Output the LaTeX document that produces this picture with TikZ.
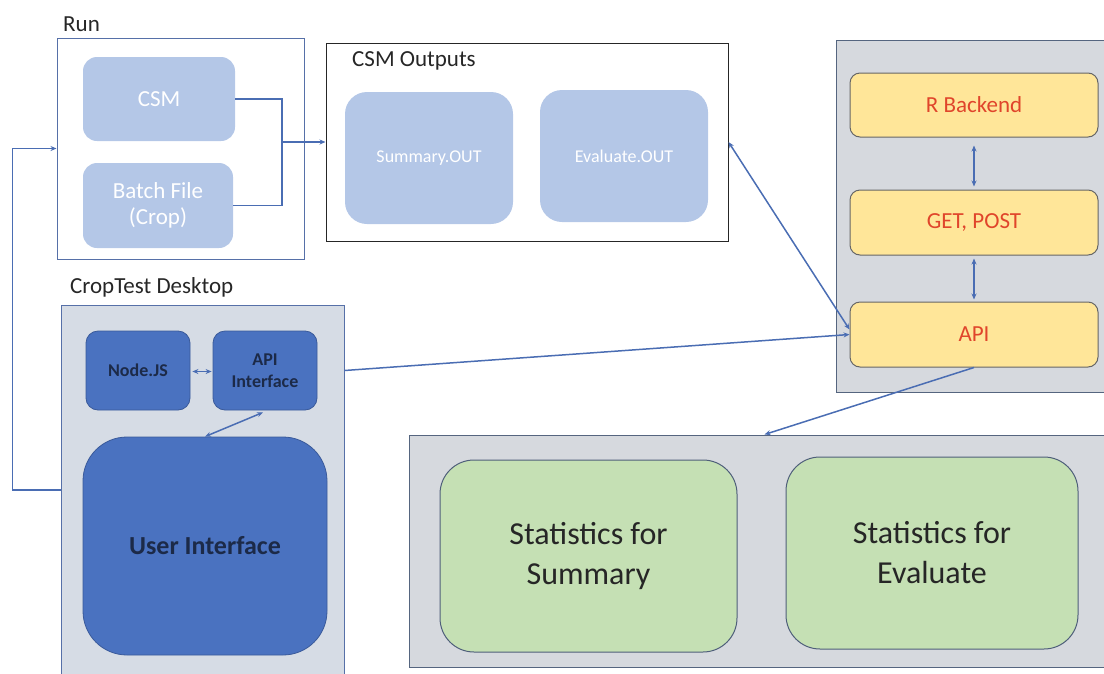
\documentclass[tikz,border=0pt]{standalone}
\usepackage{fontspec}
\setmainfont{Carlito}
\usetikzlibrary{arrows.meta,calc}

\definecolor{lineblue}{HTML}{4A6DB3}
\definecolor{frameblue}{HTML}{5670A8}
\definecolor{framegray}{HTML}{55657F}
\definecolor{paleblue}{HTML}{B4C7E7}
\definecolor{deepblue}{HTML}{4A72C0}
\definecolor{deepedge}{HTML}{3A5A9A}
\definecolor{navytext}{HTML}{1C2A48}
\definecolor{panelgray}{HTML}{D6D9DE}
\definecolor{deskfill}{HTML}{D6DCE5}
\definecolor{sand}{HTML}{FFE699}
\definecolor{sandedge}{HTML}{666666}
\definecolor{redtext}{HTML}{E0452B}
\definecolor{mint}{HTML}{C5E0B4}
\definecolor{mintedge}{HTML}{4F5F7A}
\definecolor{labeltext}{HTML}{262626}

\tikzset{
  frame/.style={draw=frameblue, line width=1pt, inner sep=0pt},
  panel/.style={draw=framegray, fill=panelgray, line width=1pt, inner sep=0pt},
  runbox/.style={fill=paleblue, rounded corners=14pt, inner sep=0pt, text=white, align=center},
  outbox/.style={fill=paleblue, rounded corners=22pt, inner sep=0pt, text=white,
    font=\fontsize{18}{22}\selectfont},
  srvbox/.style={draw=sandedge, fill=sand, line width=1pt, rounded corners=10pt, inner sep=0pt,
    minimum width=248pt, minimum height=65pt, text=redtext, font=\fontsize{23}{28}\selectfont},
  appbox/.style={draw=deepedge, fill=deepblue, line width=0.8pt, rounded corners=12pt, inner sep=0pt,
    text=navytext, align=center, font=\bfseries\fontsize{18}{22}\selectfont},
  statbox/.style={draw=mintedge, fill=mint, line width=1pt, rounded corners=34pt, inner sep=0pt,
    minimum height=192pt, text=labeltext, align=center, font=\fontsize{32}{40}\selectfont},
  grouplabel/.style={anchor=base west, inner sep=0pt, text=labeltext, font=\fontsize{23}{28}\selectfont},
  conn/.style={draw=lineblue, line width=1.5pt},
  >={Stealth[length=6pt,width=5pt]}
}

\begin{document}
\begin{tikzpicture}[x=1pt, y=-1pt]
\useasboundingbox (0,0) rectangle (1104,673);
\clip (0,0) rectangle (1104,673);

% Run group
\node[frame, minimum width=247pt, minimum height=221pt] (run) at (180.5,148.5) {};
\node[grouplabel] (runlbl) at (63,31) {Run};
\node[runbox, minimum width=152pt, minimum height=84pt, font=\fontsize{23}{28}\selectfont] (csm) at (159,99) {CSM};
\node[runbox, minimum width=150pt, minimum height=85pt, font=\fontsize{23}{26}\selectfont] (batch) at (158,205.5) {Batch File\\(Crop)};

% CSM outputs group
\node[draw=labeltext, line width=1pt, inner sep=0pt, minimum width=402pt, minimum height=198pt] (csmout) at (527,142) {};
\node[grouplabel] (outlbl) at (352,66) {CSM Outputs};
\node[outbox, minimum width=168pt, minimum height=132pt] (summout) at (429,158) {Summary.OUT};
\node[outbox, minimum width=168pt, minimum height=132pt] (evalout) at (624,156) {Evaluate.OUT};

% Server panel
\node[panel, minimum width=274pt, minimum height=352pt] (server) at (973,216) {};
\node[srvbox, minimum height=64pt] (rbk) at (974,105) {R Backend};
\node[srvbox] (getpost) at (974,222.5) {GET, POST};
\node[srvbox] (api) at (974,334.5) {API};

% CropTest Desktop group
\node[draw=frameblue, fill=deskfill, line width=1pt, inner sep=0pt, minimum width=283pt, minimum height=370pt] (desktop) at (202.5,490) {};
\node[grouplabel] (desklbl) at (70,293) {CropTest Desktop};
\node[appbox, minimum width=104pt, minimum height=79pt] (nodejs) at (138,370.5) {Node.JS};
\node[appbox, minimum width=104pt, minimum height=79pt] (apiif) at (265,370.5) {API\\Interface};
\node[appbox, rounded corners=44pt, minimum width=244pt, minimum height=218pt,
      font=\bfseries\fontsize{26}{31}\selectfont] (ui) at (205,546) {User Interface};

% Statistics panel
\node[panel, minimum width=701pt, minimum height=232pt] (stats) at (759.5,551) {};
\node[statbox, minimum width=297pt] (ssum) at (588.5,556) {Statistics for\\Summary};
\node[statbox, minimum width=292pt] (seval) at (932,553) {Statistics for\\Evaluate};

% Connectors
\draw[conn] (csm.east) -- ++(47,0) coordinate (jt) |- (batch.east);
\coordinate (j) at (jt |- csmout.west);
\draw[conn,->] (j) -- (csmout.west);
\draw[conn,->] (desktop.west) -- ++(-48,0) |- (run.west);
\draw[conn,<->] (csmout.east) -- ($(api.west)+(0,-5)$);
\draw[conn,->] (apiif.east -| desktop.east) -- (api.west);
\draw[conn,<->] ($(rbk.south)+(0,8)$) -- ($(getpost.north)+(0,-3)$);
\draw[conn,<->] ($(getpost.south)+(0,3)$) -- ($(api.north)+(0,-2)$);
\draw[conn,<->] ($(nodejs.east)+(2,1)$) -- ($(apiif.west)+(-1,1)$);
\draw[conn,<->] (ui.north) -- ($(apiif.south)+(-2,2)$);
\draw[conn,->] (api.south) -- ($(stats.north west)+(356,0)$);
\end{tikzpicture}
\end{document}
